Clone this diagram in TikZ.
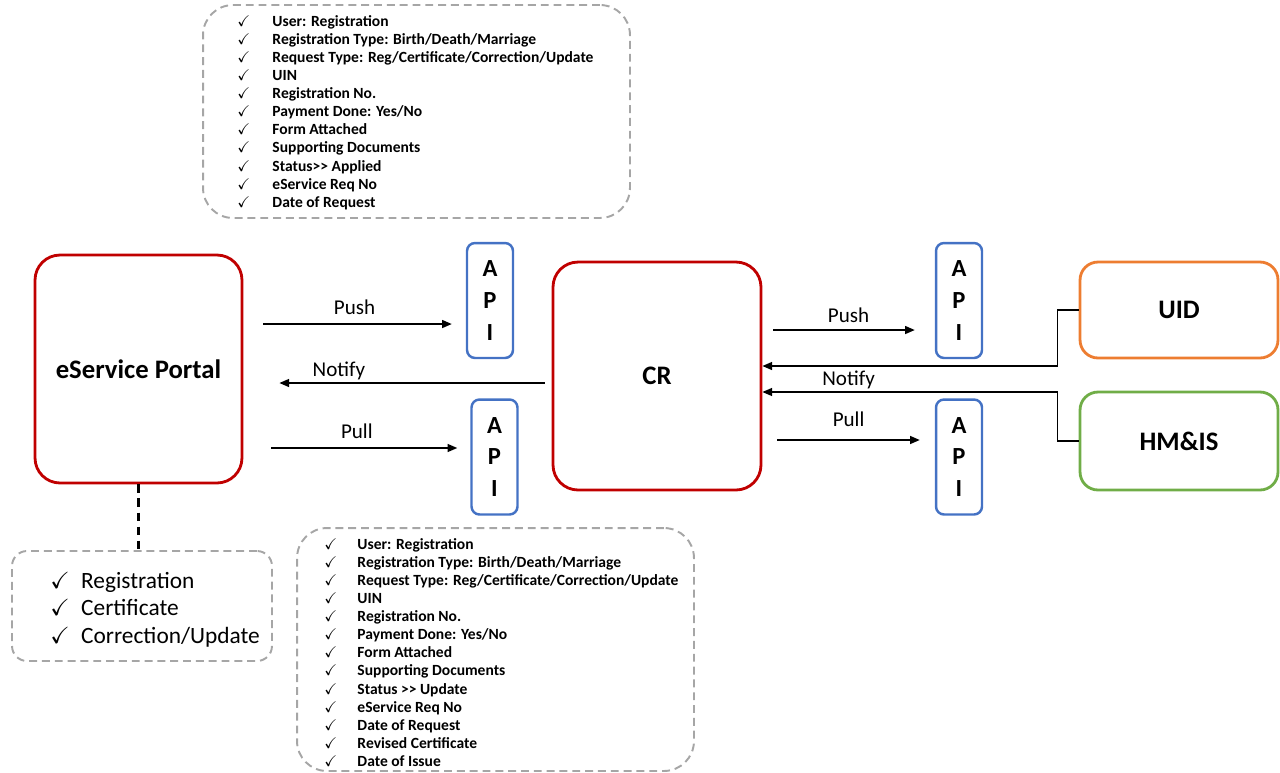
\documentclass[tikz,border=0pt]{standalone}
\usepackage{amssymb}
\usepackage{xcolor}
\usepackage{fontspec}
\setmainfont{Carlito}
\usepackage{tikz}
\usetikzlibrary{arrows.meta}
\definecolor{sysred}{HTML}{C00000}
\definecolor{apiblue}{HTML}{4472C4}
\definecolor{uidorange}{HTML}{ED7D31}
\definecolor{hmisgreen}{HTML}{70AD47}
\definecolor{notegray}{HTML}{A6A6A6}
\newcommand{\ckmark}[1]{\makebox[#1][l]{$\checkmark$}}

\begin{document}
\begin{tikzpicture}[x=0.02cm,y=0.02cm,
  system/.style={line width=1.6pt,rounded corners=0.5cm,align=center,font=\fontsize{15.2}{18}\selectfont\bfseries},
  apibox/.style={draw=apiblue,line width=1.4pt,rounded corners=0.16cm,minimum width=0.92cm,minimum height=2.3cm,inner sep=0pt,align=center,font=\fontsize{14}{18}\selectfont\bfseries},
  note/.style={draw=notegray,line width=1.1pt,dash pattern=on 4.5pt off 2.8pt},
  itemlist/.style={anchor=north west,inner sep=0pt,align=left},
  flow/.style={-{Triangle[length=5.5pt,width=4.5pt]},line width=0.85pt},
  tag/.style={font=\fontsize{12}{14}\selectfont,inner sep=0pt,text depth=0pt}]
\useasboundingbox (0,0) rectangle (1280,-772);
\node (portal) [system,draw=sysred,minimum width=4.14cm,minimum height=4.56cm] at (138.5,-369) {eService Portal};
\node (cr) [system,draw=sysred,minimum width=4.16cm,minimum height=4.56cm] at (657,-376) {CR};
\node (uid) [system,draw=uidorange,rounded corners=0.36cm,minimum width=3.96cm,minimum height=1.92cm] at (1179,-310) {UID};
\node (hmis) [system,draw=hmisgreen,rounded corners=0.36cm,minimum width=3.96cm,minimum height=1.96cm] at (1179,-441) {HM\&IS};
\node (api1) [apibox] at (490,-300.5) {A\\P\\I};
\node (api2) [apibox] at (494.5,-457) {A\\P\\I};
\node (api3) [apibox] at (959,-300.5) {A\\P\\I};
\node (api4) [apibox] at (959,-457) {A\\P\\I};
\node (topinfo) [note,rounded corners=0.6cm,minimum width=8.54cm,minimum height=4.26cm] at (416.5,-111.5) {};
\node (leftinfo) [note,rounded corners=0.3cm,minimum width=5.2cm,minimum height=2.2cm] at (142,-606) {};
\node (botinfo) [note,rounded corners=0.6cm,minimum width=7.94cm,minimum height=4.86cm] at (495.5,-649.5) {};
\node (toplist) [itemlist,font=\fontsize{8.85}{10.3}\selectfont\bfseries] at (237,-15) {\ckmark{2.26em}User: Registration\\
\ckmark{2.26em}Registration Type: Birth/Death/Marriage\\
\ckmark{2.26em}Request Type: Reg/Certificate/Correction/Update\\
\ckmark{2.26em}UIN\\
\ckmark{2.26em}Registration No.\\
\ckmark{2.26em}Payment Done: Yes/No\\
\ckmark{2.26em}Form Attached\\
\ckmark{2.26em}Supporting Documents\\
\ckmark{2.26em}Status>{}> Applied\\
\ckmark{2.26em}eService Req No\\
\ckmark{2.26em}Date of Request};
\node (botlist) [itemlist,font=\fontsize{8.85}{10.3}\selectfont\bfseries] at (324,-538) {\ckmark{2.13em}User: Registration\\
\ckmark{2.13em}Registration Type: Birth/Death/Marriage\\
\ckmark{2.13em}Request Type: Reg/Certificate/Correction/Update\\
\ckmark{2.13em}UIN\\
\ckmark{2.13em}Registration No.\\
\ckmark{2.13em}Payment Done: Yes/No\\
\ckmark{2.13em}Form Attached\\
\ckmark{2.13em}Supporting Documents\\
\ckmark{2.13em}Status >{}> Update\\
\ckmark{2.13em}eService Req No\\
\ckmark{2.13em}Date of Request\\
\ckmark{2.13em}Revised Certificate\\
\ckmark{2.13em}Date of Issue};
\node (leftlist) [itemlist,font=\fontsize{13.3}{15.6}\selectfont] at (50,-572) {\ckmark{1.32em}Registration\\
\ckmark{1.32em}Certificate\\
\ckmark{1.32em}Correction/Update};
\draw [flow,shorten <=0.4cm,shorten >=0.28cm] ([yshift=0.9cm]portal.east) -- ([yshift=0.9cm]portal.east -| api1.west) node [tag,midway,above=5.1pt] {Push};
\draw [flow,shorten <=0.14cm,shorten >=0.72cm] ([yshift=-0.14cm]cr.west) -- ([yshift=-0.14cm]cr.west -| portal.east) node [tag,pos=0.69,above=3.2pt] {Notify};
\draw [flow,shorten <=0.56cm,shorten >=0.26cm] ([yshift=-1.58cm]portal.east) -- ([yshift=-1.58cm]portal.east -| api2.west) node [tag,midway,above=5.2pt] {Pull};
\draw [flow,shorten <=0.22cm,shorten >=0.4cm] ([yshift=0.92cm]cr.east) -- ([yshift=0.92cm]cr.east -| api3.west) node [tag,midway,above=4.1pt] {Push};
\draw [flow,shorten <=0.3cm,shorten >=0.3cm] ([yshift=-1.28cm]cr.east) -- ([yshift=-1.28cm]cr.east -| api4.west) node [tag,midway,above=7pt] {Pull};
\draw [flow] (uid.west) -- ++(-21,0) |- ([yshift=0.2cm]cr.east);
\draw [flow] (hmis.west) -- ++(-21,0) |- node [tag,pos=0.854,above=3.2pt] {Notify} ([yshift=-0.32cm]cr.east);
\draw [line width=1.3pt,dash pattern=on 5pt off 3pt] (portal.south) -- (portal.south |- leftinfo.north);
\end{tikzpicture}
\end{document}
